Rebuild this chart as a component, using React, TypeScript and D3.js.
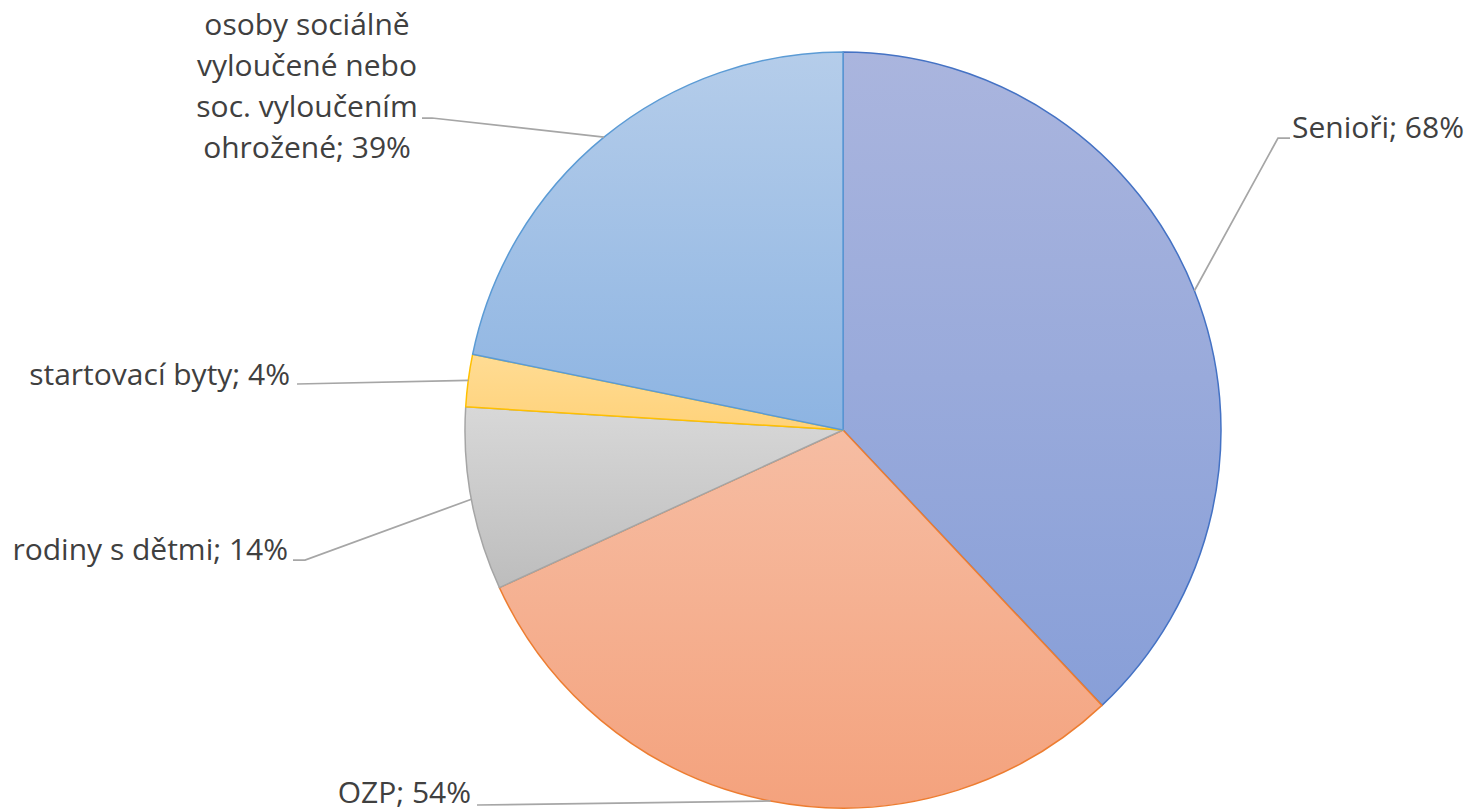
import React, { useRef, useEffect } from 'react';
import * as d3 from 'd3';

// categories and values (share of municipalities, %)
const categories = ['Senioři', 'OZP', 'rodiny s dětmi', 'startovací byty', 'osoby sociálně vyloučené nebo soc. vyloučením ohrožené'];
const values = [68, 54, 14, 4, 39];
const labelLines = [
    ['Senioři; 68%'],
    ['OZP; 54%'],
    ['rodiny s dětmi; 14%'],
    ['startovací byty; 4%'],
    ['osoby sociálně', 'vyloučené nebo', 'soc. vyloučením', 'ohrožené; 39%'],
];

// styling
const strokeColors = ['#4472C4', '#ED7D31', '#A5A5A5', '#FFC000', '#5B9BD5'];
const gradTop = ['#AAB5DE', '#F6BDA3', '#D8D8D8', '#FFDC94', '#B5CDEA'];
const gradBottom = ['#889FD8', '#F4A27D', '#BDBDBD', '#FFD27A', '#8DB4E2'];

// label layout: where the text sits and where the leader bends
const labelLayout = [
    { x: 1292, y: 138, anchor: 'start', elbow: [1278, 138], end: [1290, 138] },
    { x: 471, y: 803, anchor: 'end', elbow: null, end: [477, 805] },
    { x: 288, y: 560, anchor: 'end', elbow: [305, 560], end: [293, 560] },
    { x: 290, y: 385, anchor: 'end', elbow: null, end: [297, 384] },
    { x: 307, y: 35, anchor: 'middle', elbow: [432, 118], end: [422, 118] },
];

const App = () => {
    const chartRef = useRef(null);

    useEffect(() => {
        const width = 1476;
        const height = 812;
        const cx = 843;
        const cy = 430;
        const radius = 378;

        const svg = d3.select(chartRef.current)
            .attr('width', width)
            .attr('height', height);
        svg.selectAll('*').remove();

        const data = categories.map((c, i) => ({ name: c, value: values[i], i }));

        // gradients, one per slice
        const defs = svg.append('defs');
        data.forEach((d, i) => {
            const g = defs.append('linearGradient')
                .attr('id', `grad${i}`)
                .attr('x1', 0).attr('y1', 0).attr('x2', 0).attr('y2', 1);
            g.append('stop').attr('offset', '0%').attr('stop-color', gradTop[i]);
            g.append('stop').attr('offset', '100%').attr('stop-color', gradBottom[i]);
        });

        const pie = d3.pie().value(d => d.value).sort(null);
        const arcs = pie(data);
        const arc = d3.arc().innerRadius(0).outerRadius(radius);

        const g = svg.append('g').attr('transform', `translate(${cx},${cy})`);

        g.selectAll('path')
            .data(arcs)
            .enter().append('path')
            .attr('d', arc)
            .attr('fill', d => `url(#grad${d.data.i})`)
            .attr('stroke', d => strokeColors[d.data.i])
            .attr('stroke-width', 1.5)
            .attr('stroke-linejoin', 'round');

        // leader lines
        arcs.forEach(a => {
            const i = a.data.i;
            const mid = (a.startAngle + a.endAngle) / 2;
            const px = cx + radius * Math.sin(mid);
            const py = cy - radius * Math.cos(mid);
            const lay = labelLayout[i];
            const pts = [[px, py]];
            if (lay.elbow) pts.push(lay.elbow);
            pts.push(lay.end);
            svg.append('path')
                .attr('d', d3.line()(pts))
                .attr('fill', 'none')
                .attr('stroke', '#A6A6A6')
                .attr('stroke-width', 1.75);
        });

        // labels
        data.forEach((d, i) => {
            const lay = labelLayout[i];
            const t = svg.append('text')
                .attr('x', lay.x)
                .attr('y', lay.y)
                .attr('text-anchor', lay.anchor)
                .attr('fill', '#404040')
                .style('font-family', '"Open Sans", sans-serif')
                .style('font-size', '30px');
            labelLines[i].forEach((line, k) => {
                t.append('tspan')
                    .attr('x', lay.x)
                    .attr('dy', k === 0 ? 0 : 41)
                    .text(line);
            });
        });
    }, []);

    return (
        <svg ref={chartRef} style={{ position: 'absolute', left: 0, top: 0, background: '#fff' }} />
    );
};

export default App;
